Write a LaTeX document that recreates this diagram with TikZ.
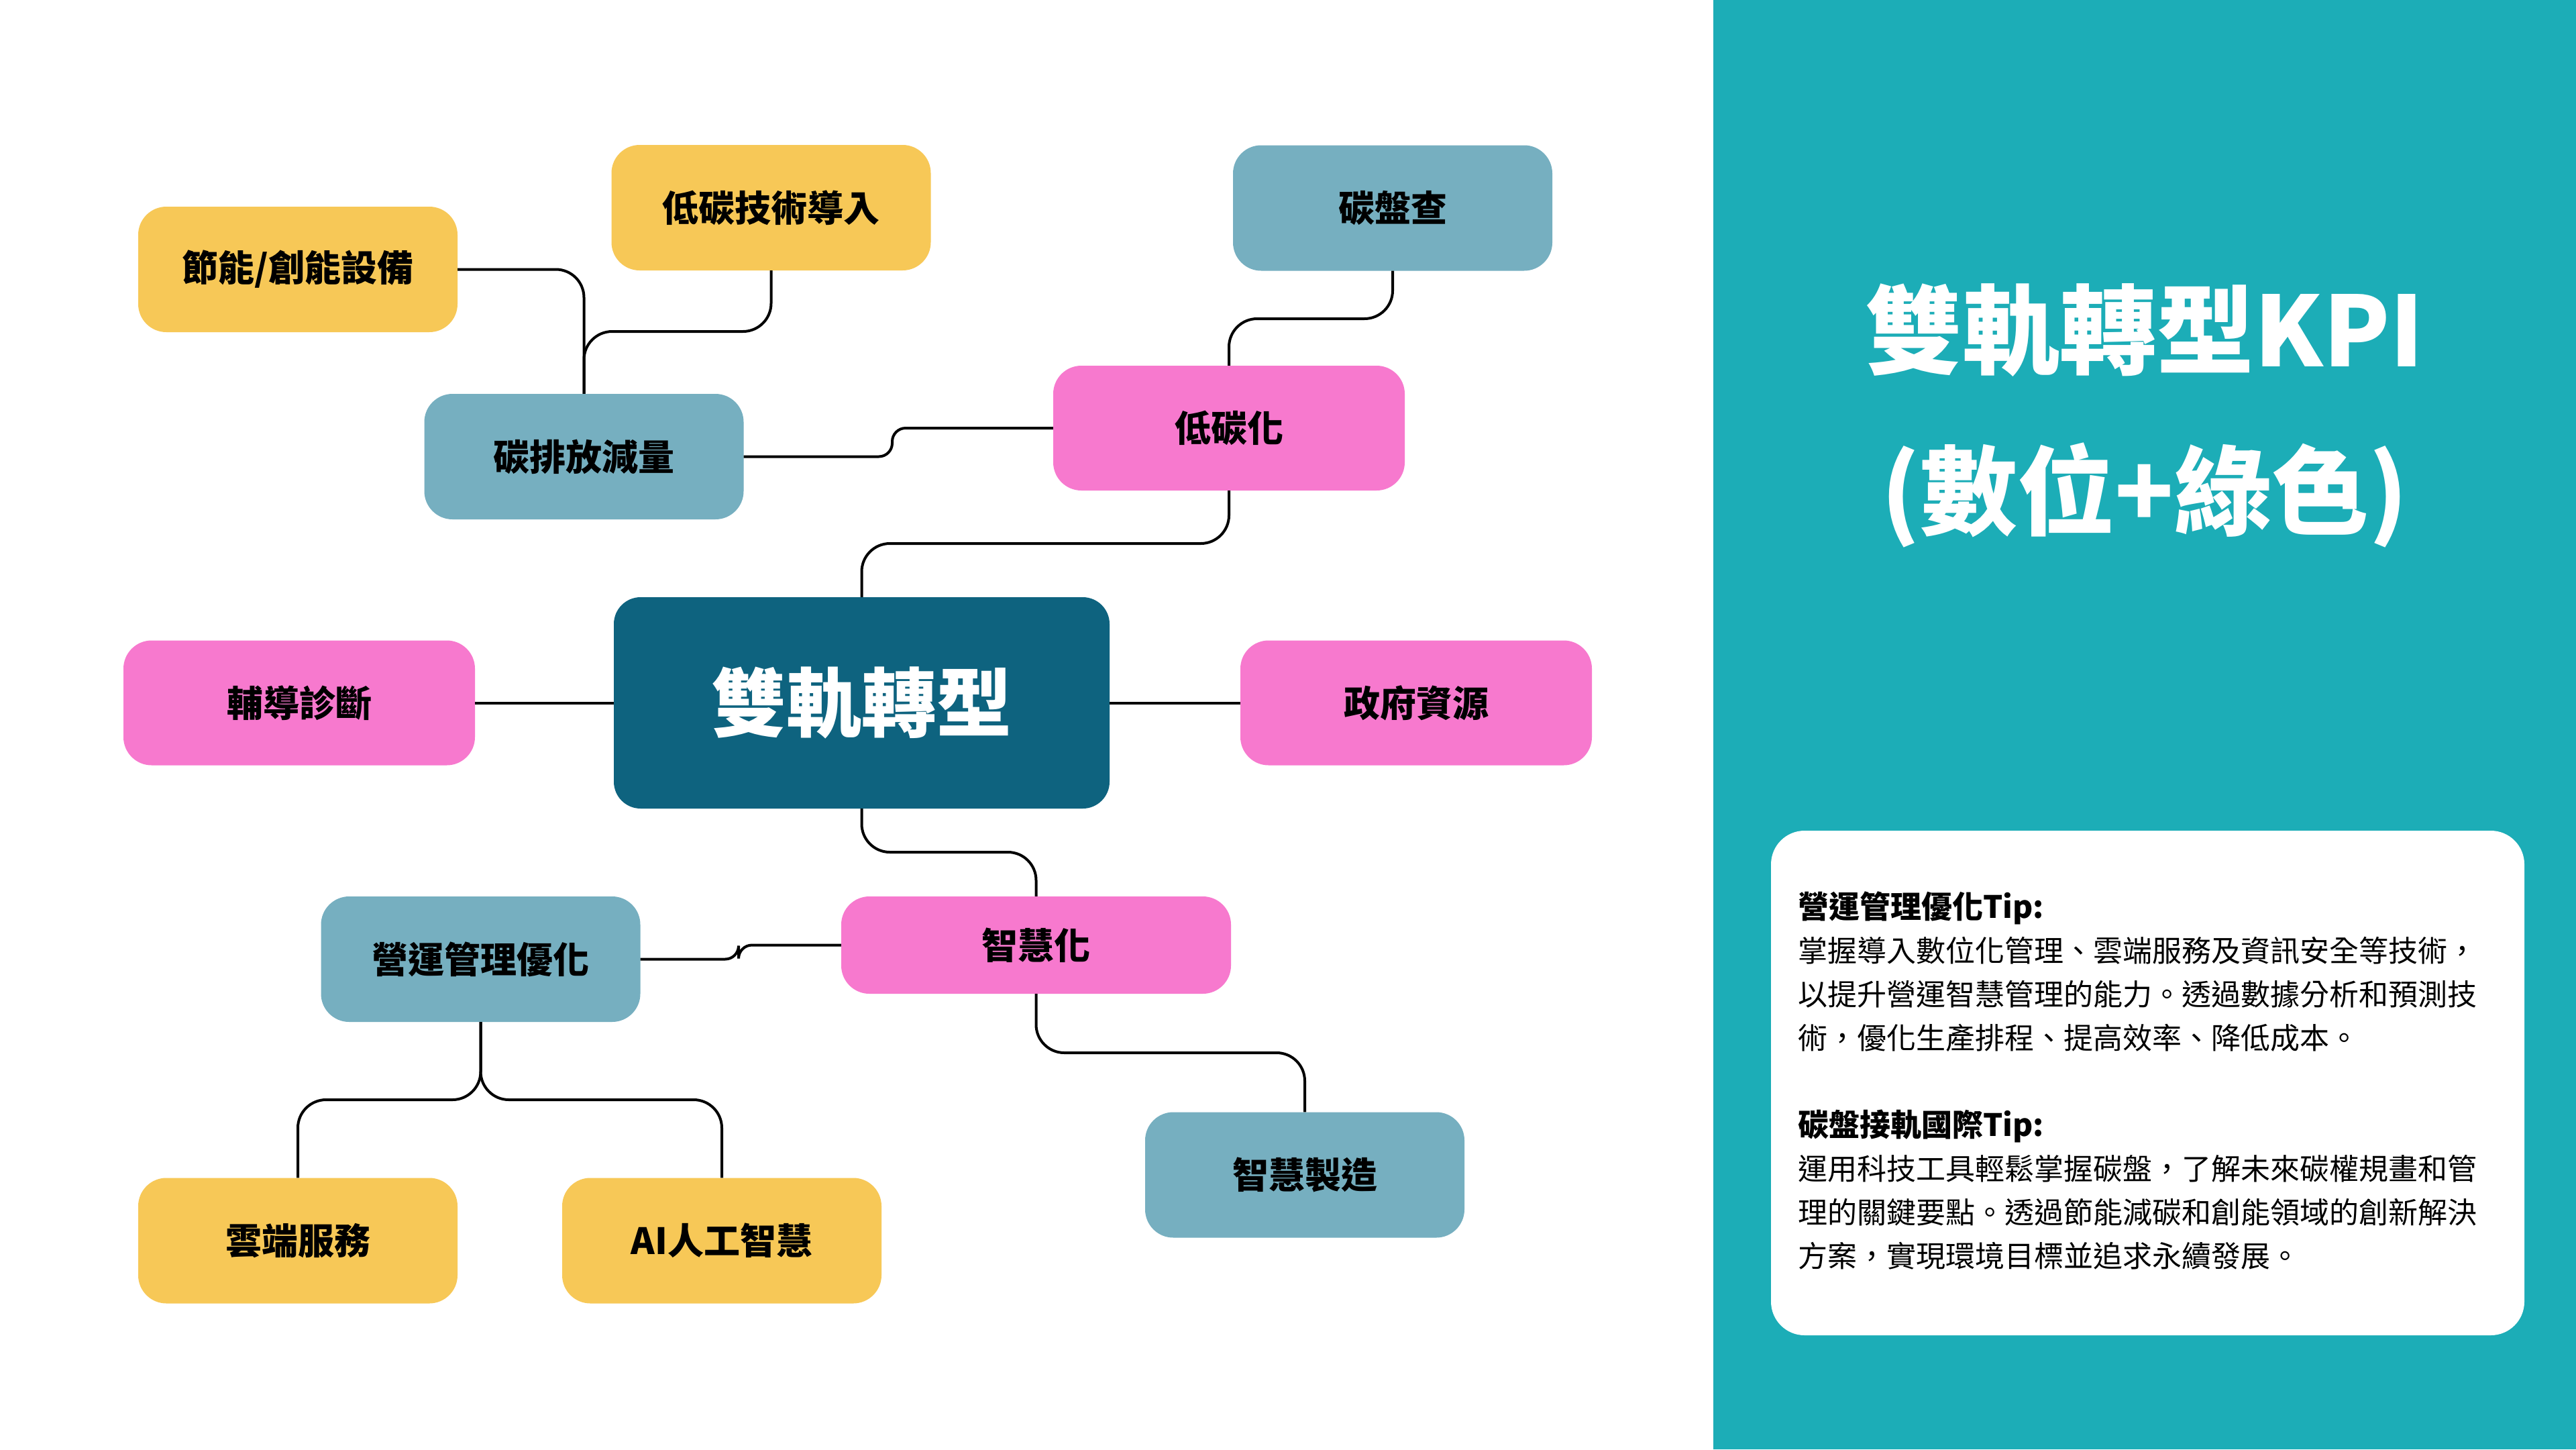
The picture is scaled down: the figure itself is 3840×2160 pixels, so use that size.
\documentclass[tikz,border=0pt]{standalone}
\usepackage{fontspec}
\setmainfont{Noto Sans CJK TC}
\definecolor{cYellow}{HTML}{F7C857}
\definecolor{cBlue}{HTML}{76AFC0}
\definecolor{cPink}{HTML}{F779CE}
\definecolor{cCenter}{HTML}{0E637F}
\definecolor{cPanel}{HTML}{1CADB7}
\tikzset{
  box/.style={rectangle, rounded corners=42pt, inner sep=0pt, minimum width=476pt, minimum height=187pt,
    font=\fontsize{54}{60}\selectfont\bfseries, text=black},
  ybox/.style={box, fill=cYellow},
  bbox/.style={box, fill=cBlue},
  pbox/.style={box, fill=cPink, minimum width=524pt, minimum height=186pt},
  conn/.style={draw=black, line width=4pt, rounded corners=42pt},
  sconn/.style={draw=black, line width=4pt, rounded corners=20pt},
}
\begin{document}
\begin{tikzpicture}[x=1pt, y=-1pt]
\useasboundingbox (0,0) rectangle (3840,2160);
\fill[white] (0,0) rectangle (3840,2160);
% right panel
\fill[cPanel] (2554,0) rectangle (3840,2160);
\node[text=white, font=\fontsize{145}{150}\selectfont\bfseries, inner sep=0pt] (title1) at (3197,492) {雙軌轉型KPI};
\node[text=white, font=\fontsize{145}{150}\selectfont\bfseries, inner sep=0pt] (title2) at (3197,738) {(數位+綠色)};
\fill[white, rounded corners=50pt] (2640,1238) rectangle (3763,1990);
\node[anchor=north west, inner sep=0pt, align=left, text=black, font=\fontsize{44}{65}\selectfont] (tips) at (2680,1328) {%
{\fontsize{46}{65}\selectfont\bfseries 營運管理優化Tip:}\\
掌握導入數位化管理、雲端服務及資訊安全等技術，\\
以提升營運智慧管理的能力。透過數據分析和預測技\\
術，優化生產排程、提高效率、降低成本。\\[65pt]
{\fontsize{46}{65}\selectfont\bfseries 碳盤接軌國際Tip:}\\
運用科技工具輕鬆掌握碳盤，了解未來碳權規畫和管\\
理的關鍵要點。透過節能減碳和創能領域的創新解決\\
方案，實現環境目標並追求永續發展。};
% nodes
\node[ybox] (jieneng) at (444,401.5) {節能/創能設備};
\node[ybox] (dijishu) at (1149.5,309.5) {低碳技術導入};
\node[bbox] (tanpan) at (2076,310) {碳盤查};
\node[bbox] (tanpai) at (870.5,680.5) {碳排放減量};
\node[pbox] (dtanhua) at (1832,638) {低碳化};
\node[rectangle, rounded corners=40pt, inner sep=0pt, minimum width=739pt, minimum height=315pt, fill=cCenter,
  text=white, font=\fontsize{112}{120}\selectfont\bfseries] (center) at (1284.5,1047.5) {雙軌轉型};
\node[pbox] (fudao) at (446,1047.5) {輔導診斷};
\node[pbox] (zhengfu) at (2111,1047.5) {政府資源};
\node[bbox] (yunying) at (716.5,1429.5) {營運管理優化};
\node[pbox, minimum width=581pt, minimum height=145pt] (zhihui) at (1544.5,1408.5) {智慧化};
\node[bbox] (zhizao) at (1945,1751) {智慧製造};
\node[ybox] (yunduan) at (444,1849) {雲端服務};
\node[ybox] (ai) at (1076,1849) {AI人工智慧};
% bend coordinates
\coordinate (c2) at (870.5,494);
\coordinate (c3) at (1330,638);
\coordinate (c4) at (1832,810);
\coordinate (c5) at (2076,475);
\coordinate (c8) at (1544.5,1270);
\coordinate (c9) at (1101,1408.5);
\coordinate (c10) at (1945,1569);
\coordinate (c11a) at (444,1639);
\coordinate (c11b) at (1076,1639);
% connectors
\draw[conn] (jieneng.east) -| (tanpai.north);
\draw[conn] (dijishu.south) |- (c2) -- (tanpai.north);
\draw[sconn] (tanpai.east) -| (c3) -- (dtanhua.west);
\draw[conn] (center.north) |- (c4) -- (dtanhua.south);
\draw[conn] (dtanhua.north) |- (c5) -- (tanpan.south);
\draw[conn] (fudao.east) -- (center.west);
\draw[conn] (center.east) -- (zhengfu.west);
\draw[conn] (center.south) |- (c8) -- (zhihui.north);
\draw[sconn] (yunying.east) -| (c9) -- (zhihui.west);
\draw[conn] (zhihui.south) |- (c10) -- (zhizao.north);
\draw[conn] (yunying.south) |- (c11a) -- (yunduan.north);
\draw[conn] (yunying.south) |- (c11b) -- (ai.north);
\end{tikzpicture}
\end{document}
